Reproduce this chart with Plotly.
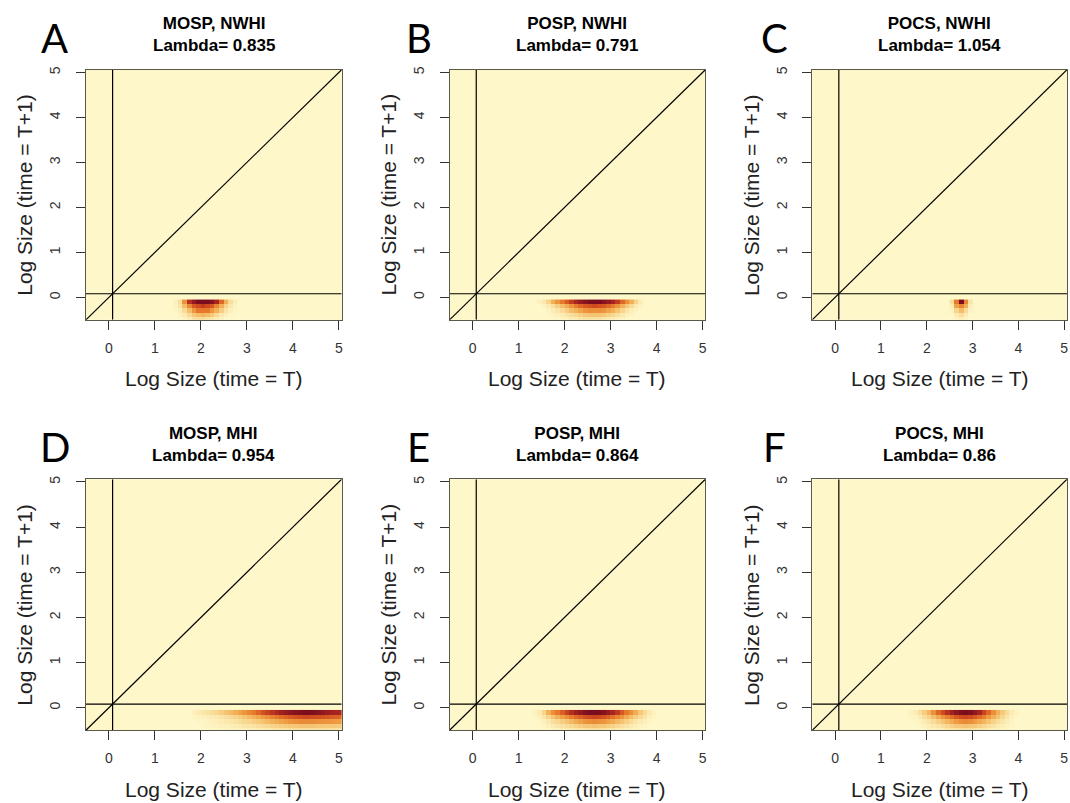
import plotly.graph_objects as go

W, H = 1070, 803

# ---------------- data ----------------
panel_letters = ["A", "B", "C", "D", "E", "F"]
panel_species = ["MOSP, NWHI", "POSP, NWHI", "POCS, NWHI",
                 "MOSP, MHI", "POSP, MHI", "POCS, MHI"]
panel_lambda = ["0.835", "0.791", "1.054", "0.954", "0.864", "0.86"]

tick_vals = [0, 1, 2, 3, 4, 5]
tick_text = ["0", "1", "2", "3", "4", "5"]
axis_range = [-0.5, 5.06]
threshold = 0.08          # vertical / horizontal reference lines

row_centers = [-0.1, -0.2, -0.3, -0.4, -0.5]
cell_width = 0.1

# first column centre of each panel's non-zero block
x_start = [1.45, 1.45, 2.55, 1.85, 1.35, 1.65]

heat_A = [
    [.03, .10, .40, .75, .90, 1.0, 1.0, 1.0, .95, .80, .55, .30, .10, .04],
    [.02, .08, .25, .45, .60, .65, .70, .65, .60, .45, .30, .15, .06, .02],
    [.01, .04, .12, .25, .40, .50, .50, .50, .40, .30, .18, .08, .03, .01],
    [.00, .02, .05, .12, .20, .25, .28, .25, .20, .12, .06, .03, .01, .00],
    [.00, .00, .02, .05, .10, .12, .12, .10, .08, .05, .02, .00, .00, .00],
]
heat_B = [
    [.03, .06, .15, .30, .40, .50, .60, .70, .80, .88, .95, 1.0, 1.0, 1.0, .95, .88, .80, .70, .55, .42, .30, .15, .05],
    [.00, .02, .05, .10, .18, .25, .32, .40, .48, .55, .60, .62, .65, .62, .60, .55, .48, .40, .30, .20, .12, .05, .02],
    [.00, .00, .02, .04, .08, .12, .18, .25, .30, .35, .40, .42, .42, .42, .40, .35, .30, .22, .15, .08, .04, .02, .00],
    [.00, .00, .00, .02, .03, .05, .08, .10, .14, .17, .20, .22, .22, .22, .20, .17, .14, .10, .06, .03, .02, .00, .00],
    [.00, .00, .00, .00, .01, .02, .03, .05, .06, .08, .10, .10, .10, .10, .08, .06, .05, .03, .02, .01, .00, .00, .00],
]
heat_C = [
    [.10, .50, 1.0, .45, .08],
    [.05, .35, .45, .30, .04],
    [.02, .15, .25, .12, .02],
    [.00, .05, .10, .05, .00],
    [.00, .02, .04, .02, .00],
]
heat_D = [
    [.03, .05, .07, .09, .11, .14, .18, .22, .26, .30, .35, .40, .45, .50, .56, .62, .68, .73, .78, .84, .88, .92, .96, .98, 1.0, 1.0, .98, .95, .90, .86, .82, .80, .78],
    [.01, .02, .03, .04, .05, .06, .08, .10, .12, .15, .18, .22, .26, .30, .34, .38, .42, .46, .50, .54, .57, .60, .62, .64, .65, .65, .64, .63, .62, .60, .58, .57, .56],
    [.00, .01, .01, .02, .03, .04, .05, .06, .07, .09, .11, .13, .15, .18, .20, .23, .26, .29, .32, .35, .38, .40, .42, .43, .44, .44, .43, .42, .41, .40, .39, .38, .37],
    [.00, .00, .01, .01, .02, .02, .03, .03, .04, .05, .06, .07, .08, .09, .10, .12, .13, .15, .16, .18, .19, .20, .21, .22, .22, .22, .22, .21, .21, .20, .20, .19, .19],
    [.00, .00, .00, .00, .01, .01, .01, .02, .02, .02, .03, .03, .04, .04, .05, .06, .06, .07, .08, .09, .09, .10, .10, .11, .11, .11, .11, .10, .10, .10, .10, .09, .09],
]
heat_E = [
    [.02, .05, .15, .30, .42, .50, .58, .68, .76, .84, .90, .96, 1.0, 1.0, 1.0, .96, .88, .80, .72, .60, .50, .42, .32, .20, .12, .06, .02],
    [.01, .03, .08, .15, .22, .30, .36, .42, .48, .54, .58, .62, .65, .66, .65, .62, .58, .52, .46, .40, .32, .25, .18, .12, .07, .03, .01],
    [.00, .01, .03, .06, .10, .14, .18, .22, .27, .32, .36, .40, .42, .44, .42, .40, .36, .32, .27, .22, .17, .12, .08, .05, .03, .01, .00],
    [.00, .00, .01, .03, .05, .07, .09, .11, .13, .16, .18, .20, .21, .22, .21, .20, .18, .16, .13, .10, .08, .06, .04, .02, .01, .00, .00],
    [.00, .00, .00, .01, .02, .03, .04, .05, .06, .07, .08, .09, .10, .10, .10, .09, .08, .07, .06, .05, .04, .03, .02, .01, .00, .00, .00],
]
heat_F = [
    [.02, .05, .10, .18, .28, .42, .55, .65, .75, .84, .92, .98, 1.0, .98, .90, .80, .68, .55, .42, .30, .20, .12, .05, .02],
    [.01, .02, .05, .10, .16, .24, .32, .40, .47, .54, .60, .64, .66, .64, .60, .54, .47, .38, .30, .22, .14, .08, .03, .01],
    [.00, .01, .02, .05, .08, .12, .17, .22, .28, .33, .38, .42, .44, .42, .38, .33, .28, .22, .16, .11, .07, .04, .02, .00],
    [.00, .00, .01, .02, .04, .06, .08, .11, .14, .17, .20, .21, .22, .21, .20, .17, .14, .11, .08, .05, .03, .02, .01, .00],
    [.00, .00, .00, .01, .02, .03, .04, .05, .07, .08, .09, .10, .10, .10, .09, .08, .07, .05, .04, .03, .02, .01, .00, .00],
]
heats = [heat_A, heat_B, heat_C, heat_D, heat_E, heat_F]

# ---------------- style / layout ----------------
BG = "#FEF7C9"
colorscale = [
    [0.00, BG],
    [0.08, "#FAE4A6"],
    [0.20, "#F6C97A"],
    [0.35, "#F0A448"],
    [0.50, "#E5782A"],
    [0.65, "#CF4A1E"],
    [0.80, "#A82420"],
    [1.00, "#7A0E1E"],
]

# plot boxes in screen pixels (left, right, top, bottom)
col_px = [(86, 342), (450, 706), (813, 1068)]
row_px = [(67, 318), (478, 730)]

FONT = "Liberation Sans, Arial, sans-serif"


def fx(px):
    return px / W


def fy(py):
    return 1 - py / H


fig = go.Figure()
annotations = []

for i in range(6):
    r, c = divmod(i, 3)
    l, rr = col_px[c]
    t, b = row_px[r]
    n = i + 1
    xa = "x" if n == 1 else f"x{n}"
    ya = "y" if n == 1 else f"y{n}"

    fig.add_trace(go.Heatmap(
        z=heats[i], x0=x_start[i], dx=cell_width, y=row_centers,
        zmin=0, zmax=1, colorscale=colorscale, showscale=False,
        xaxis=xa, yaxis=ya, hoverinfo="skip"))
    # reference lines
    fig.add_trace(go.Scatter(x=axis_range, y=axis_range, mode="lines",
                             line=dict(color="black", width=1.2),
                             xaxis=xa, yaxis=ya, showlegend=False, hoverinfo="skip"))
    fig.add_trace(go.Scatter(x=[threshold, threshold], y=axis_range, mode="lines",
                             line=dict(color="black", width=1.2),
                             xaxis=xa, yaxis=ya, showlegend=False, hoverinfo="skip"))
    fig.add_trace(go.Scatter(x=axis_range, y=[threshold, threshold], mode="lines",
                             line=dict(color="black", width=1.2),
                             xaxis=xa, yaxis=ya, showlegend=False, hoverinfo="skip"))

    axis_common = dict(
        range=axis_range, tickmode="array", tickvals=tick_vals, ticktext=tick_text,
        ticks="outside", ticklen=9, tickwidth=1.2, tickcolor="#333",
        showline=True, linecolor="#5a5a4a", linewidth=1, mirror=True,
        showgrid=False, zeroline=False, fixedrange=True,
        tickfont=dict(family=FONT, size=14, color="#333"),
    )
    fig.update_layout(**{
        ("xaxis" if n == 1 else f"xaxis{n}"): dict(
            axis_common, domain=[fx(l), fx(rr)], anchor=ya, ticklabelstandoff=6),
        ("yaxis" if n == 1 else f"yaxis{n}"): dict(
            axis_common, domain=[fy(b), fy(t)], anchor=xa,
            tickangle=-90, ticklabelstandoff=10),
    })

    cx = (l + rr) / 2
    cy = (t + b) / 2
    # title
    annotations.append(dict(
        text=f"<b>{panel_species[i]}</b><br><b>Lambda= {panel_lambda[i]}</b>",
        x=fx(cx), y=fy(t - 35), xref="paper", yref="paper",
        xanchor="center", yanchor="middle", showarrow=False,
        font=dict(family=FONT, size=17, color="black")))
    # panel letter
    annotations.append(dict(
        text=panel_letters[i], x=fx(l - 31 - (7 if c == 2 else 0)), y=fy(t - 32),
        xref="paper", yref="paper", xanchor="center", yanchor="middle",
        showarrow=False, font=dict(family="Lato, Open Sans, sans-serif", size=40, color="black")))
    # x axis title
    annotations.append(dict(
        text="Log Size (time = T)", x=fx(cx), y=fy(b + 59),
        xref="paper", yref="paper", xanchor="center", yanchor="middle",
        showarrow=False, font=dict(family=FONT, size=21, color="#222")))
    # y axis title
    annotations.append(dict(
        text="Log Size (time = T+1)", x=fx(l - 61), y=fy(cy),
        xref="paper", yref="paper", xanchor="center", yanchor="middle",
        textangle=-90, showarrow=False, font=dict(family=FONT, size=21, color="#222")))

fig.update_layout(
    width=W, height=H, margin=dict(l=0, r=0, t=0, b=0),
    paper_bgcolor="white", plot_bgcolor=BG, showlegend=False,
    annotations=annotations,
)

fig.write_html(
    "out.html",
    config={"displayModeBar": False},
    post_script="document.body.style.margin='0px';document.body.style.overflow='hidden';",
)
